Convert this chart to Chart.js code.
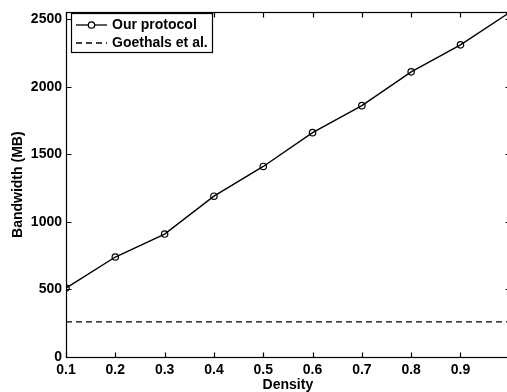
<!DOCTYPE html>
<html>
<head>
<meta charset="utf-8">
<script src="https://cdn.jsdelivr.net/npm/chart.js@4"></script>
<style>
  html, body { margin: 0; padding: 0; background: #fff; overflow: hidden; }
  #wrap { position: relative; width: 515px; height: 392px; }
</style>
</head>
<body>
<div id="wrap"><canvas id="bwChart"></canvas></div>
<script>
// ==================== DATA ====================
const density = [0.1, 0.2, 0.3, 0.4, 0.5, 0.6, 0.7, 0.8, 0.9, 1.0];
const ourProtocol = [510, 740, 910, 1190, 1410, 1660, 1860, 2110, 2310, 2550];
const goethals = [260, 260, 260, 260, 260, 260, 260, 260, 260, 260];
const xTicks = [0.1, 0.2, 0.3, 0.4, 0.5, 0.6, 0.7, 0.8, 0.9];
const yTicks = [0, 500, 1000, 1500, 2000, 2500];

const FONT = '"Liberation Sans", Arial, Helvetica, sans-serif';

// ==================== MATLAB-STYLE BOX + INWARD TICKS ====================
const boxPlugin = {
    id: 'matlabBox',
    afterDatasetsDraw(chart) {
        const { ctx, chartArea: a, scales } = chart;
        const L = Math.round(a.left) + 0.5, R = Math.round(a.right) + 0.5;
        const T = Math.round(a.top) + 0.5, B = Math.round(a.bottom) + 0.5;
        ctx.save();
        ctx.strokeStyle = '#000';
        ctx.lineWidth = 1.2;
        ctx.setLineDash([]);
        ctx.strokeRect(L, T, R - L, B - T);
        const len = 5;
        ctx.beginPath();
        xTicks.forEach(v => {
            const px = Math.round(scales.x.getPixelForValue(v)) + 0.5;
            ctx.moveTo(px, B); ctx.lineTo(px, B - len);
            ctx.moveTo(px, T); ctx.lineTo(px, T + len);
        });
        yTicks.forEach(v => {
            const py = Math.round(scales.y.getPixelForValue(v)) + 0.5;
            ctx.moveTo(L, py); ctx.lineTo(L + len, py);
            ctx.moveTo(R, py); ctx.lineTo(R - len, py);
        });
        ctx.stroke();
        ctx.restore();
    }
};

// ==================== LEGEND BOX (top-left) ====================
const legendPlugin = {
    id: 'matlabLegend',
    afterDraw(chart) {
        const { ctx } = chart;
        const ds = chart.data.datasets;
        ctx.save();
        ctx.fillStyle = '#fff';
        ctx.fillRect(71.5, 13.5, 141, 39);
        ctx.strokeStyle = '#000';
        ctx.lineWidth = 1.2;
        ctx.strokeRect(71.5, 13.5, 141, 39);
        const rows = [25, 43];
        ds.forEach((d, i) => {
            const y = rows[i];
            ctx.beginPath();
            ctx.setLineDash(d.borderDash || []);
            ctx.lineWidth = 1.3;
            ctx.moveTo(76, y);
            ctx.lineTo(107, y);
            ctx.stroke();
            ctx.setLineDash([]);
            if (d.pointRadius > 0) {
                ctx.beginPath();
                ctx.arc(91.5, y, 3.2, 0, Math.PI * 2);
                ctx.fillStyle = '#fff';
                ctx.fill();
                ctx.stroke();
            }
            ctx.fillStyle = '#000';
            ctx.font = 'bold 14px ' + FONT;
            ctx.textBaseline = 'middle';
            ctx.textAlign = 'left';
            ctx.fillText(d.label, 112, y + 0.5);
        });
        ctx.restore();
    }
};

// ==================== CHART ====================
const ctx = document.getElementById('bwChart').getContext('2d');
new Chart(ctx, {
    type: 'line',
    data: {
        datasets: [
            {
                label: 'Our protocol',
                data: density.map((x, i) => ({ x: x, y: ourProtocol[i] })),
                borderColor: '#000',
                borderWidth: 1.4,
                pointRadius: 3.2,
                pointBorderWidth: 1.2,
                pointBackgroundColor: 'rgba(0,0,0,0)',
                pointBorderColor: '#000',
                tension: 0,
                fill: false
            },
            {
                label: 'Goethals et al.',
                data: density.map((x, i) => ({ x: x, y: goethals[i] })),
                borderColor: '#000',
                borderWidth: 1.4,
                borderDash: [6, 4],
                pointRadius: 0,
                tension: 0,
                fill: false
            }
        ]
    },
    options: {
        responsive: true,
        maintainAspectRatio: false,
        animation: false,
        layout: { padding: { left: 0, right: 5, top: 10, bottom: 0 } },
        plugins: { legend: { display: false }, tooltip: { enabled: false } },
        scales: {
            x: {
                type: 'linear',
                min: 0.1,
                max: 1.0,
                afterBuildTicks: s => { s.ticks = xTicks.map(v => ({ value: v })); },
                afterFit: s => { s.height = 35; },
                grid: { display: false, drawTicks: false },
                border: { display: false },
                ticks: {
                    color: '#000',
                    padding: 5,
                    maxRotation: 0,
                    font: { family: FONT, size: 14, weight: 'bold' },
                    callback: v => v.toFixed(1)
                },
                title: {
                    display: true,
                    text: 'Density',
                    color: '#000',
                    padding: { top: 0, bottom: -2 },
                    font: { family: FONT, size: 14, weight: 'bold' }
                }
            },
            y: {
                min: 0,
                max: 2550,
                afterBuildTicks: s => { s.ticks = yTicks.map(v => ({ value: v })); },
                afterFit: s => { s.width = 66; },
                grid: { display: false, drawTicks: false },
                border: { display: false },
                ticks: {
                    color: '#000',
                    padding: 4,
                    font: { family: FONT, size: 14, weight: 'bold' },
                    callback: v => String(v)
                },
                title: {
                    display: true,
                    text: 'Bandwidth (MB)',
                    color: '#000',
                    padding: { top: 10, bottom: 0 },
                    font: { family: FONT, size: 14, weight: 'bold' }
                }
            }
        }
    },
    plugins: [boxPlugin, legendPlugin]
});
</script>
</body>
</html>
